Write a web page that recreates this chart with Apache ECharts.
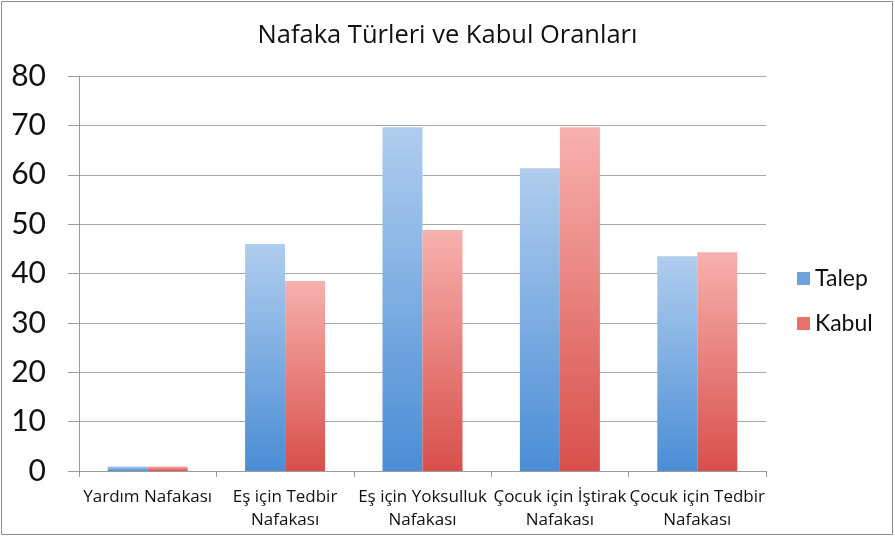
<!DOCTYPE html>
<html>
<head>
<meta charset="utf-8">
<script src="https://cdn.jsdelivr.net/npm/echarts@6/dist/echarts.min.js"></script>
<style>
  html, body { margin: 0; padding: 0; background: #fff; }
  #chart { width: 895px; height: 537px; }
</style>
</head>
<body>
<div id="chart"></div>
<script>
// kategoriler ve değerler
var categories = [
  "Yardım Nafakası",
  "Eş için Tedbir\nNafakası",
  "Eş için Yoksulluk\nNafakası",
  "Çocuk için İştirak\nNafakası",
  "Çocuk için Tedbir\nNafakası"
];
var talep = [0.9, 46, 69.6, 61.3, 43.5];
var kabul = [0.9, 38.5, 48.8, 69.6, 44.3];

var fontFam = "Lato, 'Open Sans', sans-serif";
var wideFam = "'Open Sans', Lato, sans-serif";

function grad(top, bottom) {
  return new echarts.graphic.LinearGradient(0, 0, 0, 1, [
    { offset: 0, color: top },
    { offset: 1, color: bottom }
  ]);
}

var chart = echarts.init(document.getElementById("chart"));
chart.setOption({
  animation: false,
  title: {
    text: "Nafaka Türleri ve Kabul Oranları",
    left: "center",
    top: 18,
    textStyle: { fontFamily: wideFam, fontSize: 25.5, fontWeight: "normal", color: "#111" }
  },
  graphic: [{
    type: "rect",
    shape: { x: 1.5, y: 1.5, width: 891, height: 533 },
    style: { fill: null, stroke: "#8c8c8c", lineWidth: 1 },
    silent: true
  }],
  legend: {
    orient: "vertical",
    left: 792,
    top: 262,
    itemWidth: 13,
    itemHeight: 13,
    itemGap: 22,
    icon: "rect",
    textStyle: { fontFamily: fontFam, fontSize: 23, color: "#111" },
    data: [
      { name: "Talep", itemStyle: { color: "#6fa3de" } },
      { name: "Kabul", itemStyle: { color: "#e8716e" } }
    ]
  },
  grid: { left: 79, right: 129, top: 76, bottom: 66, containLabel: false },
  xAxis: {
    type: "category",
    data: categories,
    axisLine: { lineStyle: { color: "#9a9a9a" } },
    axisTick: { show: true, length: 6, lineStyle: { color: "#9a9a9a" } },
    axisLabel: {
      interval: 0,
      margin: 15,
      fontFamily: wideFam,
      fontSize: 17,
      lineHeight: 23,
      color: "#111"
    }
  },
  yAxis: {
    type: "value",
    min: 0,
    max: 80,
    interval: 10,
    axisLine: { show: true, lineStyle: { color: "#9a9a9a" } },
    axisTick: { show: true, length: 11, lineStyle: { color: "#9a9a9a" } },
    splitLine: { lineStyle: { color: "#a8a8a8" } },
    axisLabel: { fontFamily: fontFam, fontSize: 30, color: "#111", margin: 33 }
  },
  series: [
    {
      name: "Talep",
      type: "bar",
      data: talep,
      barWidth: 40,
      barGap: "0%",
      itemStyle: { color: grad("#b0cdee", "#4a8dd5") }
    },
    {
      name: "Kabul",
      type: "bar",
      data: kabul,
      barWidth: 40,
      itemStyle: { color: grad("#f7b1ae", "#d84f4b") }
    }
  ]
});
</script>
</body>
</html>
